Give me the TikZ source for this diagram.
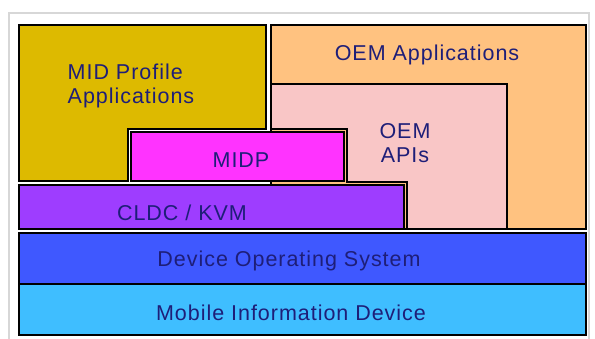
\documentclass[tikz,border=0pt]{standalone}
\usepackage{fontspec}
\setmainfont{Liberation Sans}[LetterSpace=4.5]
\definecolor{midgold}{RGB}{221,186,0}
\definecolor{oemorange}{RGB}{255,194,128}
\definecolor{oempink}{RGB}{249,198,198}
\definecolor{midpmag}{RGB}{255,51,255}
\definecolor{cldcpurple}{RGB}{158,61,255}
\definecolor{osblue}{RGB}{63,88,255}
\definecolor{devcyan}{RGB}{63,190,255}
\definecolor{txtnavy}{RGB}{30,30,120}
\definecolor{framegray}{RGB}{215,215,215}
\tikzset{
  layer/.style={draw=black, line width=1.3pt, line join=miter},
  layertext/.style={text=txtnavy, inner sep=0pt, align=center,
    font=\fontsize{21.5}{24}\selectfont}
}
\begin{document}
\begin{tikzpicture}[x=1pt,y=-1pt]
        \useasboundingbox (0,0) rectangle (595,339);
        % frame
        \draw [framegray, line width=1.2pt] (9,345) -- (9,13) -- (589,13) -- (589,345);
        % applications
        \filldraw [layer, fill=midgold] (19,25) -- (266,25) -- (266,129) -- (128,129) -- (128,181) -- (19,181) -- cycle;
        \filldraw [layer, fill=oemorange] (271,25) -- (586,25) -- (586,229) -- (271,229) -- cycle;
        \filldraw [layer, fill=oempink] (271,84) -- (507,84) -- (507,229) -- (407,229) -- (407,182) -- (347,182) -- (347,129) -- (271,129) -- cycle;
        % configuration and profile
        \filldraw [layer, fill=midpmag] (131,132) rectangle (344,181);
        \filldraw [layer, fill=cldcpurple] (19,185) rectangle (404,229);
        % system
        \filldraw [layer, fill=osblue] (19,233) rectangle (586,284);
        \filldraw [layer, fill=devcyan] (19,284) rectangle (586,335);
        % labels
        \node [layertext, align=left] (midapps) at (131,86) {MID Profile\\Applications};
        \node [layertext] (oemapps) at (427,55) {OEM Applications};
        \node [layertext] (oemapis) at (405,143) {OEM\\APIs};
        \node [layertext] (midp) at (241,160) {MIDP};
        \node [layertext] (cldc) at (182,213) {CLDC / KVM};
        \node [layertext] (devos) at (289,261) {Device Operating System};
        \node [layertext] (mobdev) at (291,313) {Mobile Information Device};
\end{tikzpicture}
\end{document}
